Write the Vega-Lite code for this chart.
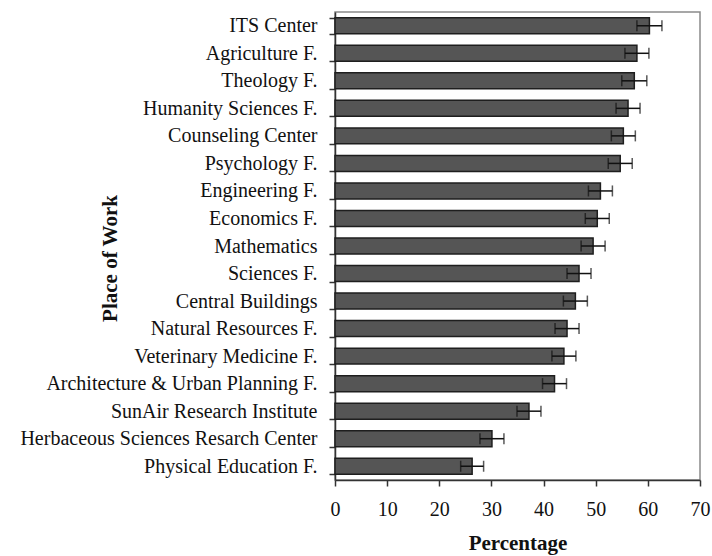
{
  "$schema": "https://vega.github.io/schema/vega-lite/v6.json",
  "autosize": "none",
  "width": 365,
  "height": 468,
  "padding": {"left": 335, "top": 12, "right": 12, "bottom": 76},
  "background": "white",
  "config": {
    "view": {"stroke": "#8a8a8a", "strokeWidth": 1.5},
    "font": "Liberation Serif",
    "axis": {"labelFont": "Liberation Serif", "titleFont": "Liberation Serif", "labelColor": "#111", "titleColor": "#111", "domainColor": "#333", "tickColor": "#333", "domainWidth": 1.5, "tickWidth": 1.5, "grid": false}
  },
  "data": {
    "values": [
      {"place": "ITS Center", "value": 60.3, "lo": 57.9, "hi": 62.7},
      {"place": "Agriculture F.", "value": 57.9, "lo": 55.6, "hi": 60.2},
      {"place": "Theology F.", "value": 57.4, "lo": 55.0, "hi": 59.8},
      {"place": "Humanity Sciences F.", "value": 56.2, "lo": 53.9, "hi": 58.5},
      {"place": "Counseling Center", "value": 55.3, "lo": 53.0, "hi": 57.6},
      {"place": "Psychology F.", "value": 54.7, "lo": 52.4, "hi": 57.0},
      {"place": "Engineering F.", "value": 50.9, "lo": 48.6, "hi": 53.2},
      {"place": "Economics F.", "value": 50.3, "lo": 48.0, "hi": 52.6},
      {"place": "Mathematics", "value": 49.5, "lo": 47.2, "hi": 51.8},
      {"place": "Sciences F.", "value": 46.8, "lo": 44.5, "hi": 49.1},
      {"place": "Central Buildings", "value": 46.1, "lo": 43.8, "hi": 48.4},
      {"place": "Natural Resources F.", "value": 44.5, "lo": 42.2, "hi": 46.8},
      {"place": "Veterinary Medicine F.", "value": 43.9, "lo": 41.6, "hi": 46.2},
      {"place": "Architecture & Urban Planning F.", "value": 42.1, "lo": 39.8, "hi": 44.4},
      {"place": "SunAir Research Institute", "value": 37.2, "lo": 34.9, "hi": 39.5},
      {"place": "Herbaceous Sciences Resarch  Center", "value": 30.1, "lo": 27.8, "hi": 32.4},
      {"place": "Physical Education F.", "value": 26.3, "lo": 24.1, "hi": 28.5}
    ]
  },
  "encoding": {
    "y": {
      "field": "place", "type": "nominal", "sort": null,
      "scale": {"paddingInner": 0.42, "paddingOuter": 0.21},
      "axis": {
        "title": "Place of Work", "titleFontSize": 21, "titleFontWeight": "bold",
        "titleAngle": -90, "titleX": -225, "titleY": 246, "titleBaseline": "middle", "titleAlign": "center",
        "labelFontSize": 20, "labelPadding": 12, "tickSize": 6, "tickBand": "extent", "labelLimit": 400
      }
    }
  },
  "layer": [
    {
      "mark": {"type": "bar", "fill": "#555555", "stroke": "#1e1e1e", "strokeWidth": 1.5},
      "encoding": {
        "x": {
          "field": "value", "type": "quantitative",
          "scale": {"domain": [0, 70], "nice": false},
          "axis": {"title": "Percentage", "titleFontSize": 21, "titleFontWeight": "bold", "titlePadding": 13,
                   "values": [0, 10, 20, 30, 40, 50, 60, 70], "labelFontSize": 20, "labelPadding": 13, "tickSize": 6, "labelFlush": false}
        }
      }
    },
    {
      "mark": {"type": "rule", "color": "#111", "strokeWidth": 1.5},
      "encoding": {
        "x": {"field": "lo", "type": "quantitative"},
        "x2": {"field": "hi"}
      }
    },
    {
      "mark": {"type": "tick", "color": "#111", "thickness": 1.5, "size": 11},
      "encoding": {"x": {"field": "lo", "type": "quantitative"}}
    },
    {
      "mark": {"type": "tick", "color": "#111", "thickness": 1.5, "size": 11},
      "encoding": {"x": {"field": "hi", "type": "quantitative"}}
    }
  ]
}
